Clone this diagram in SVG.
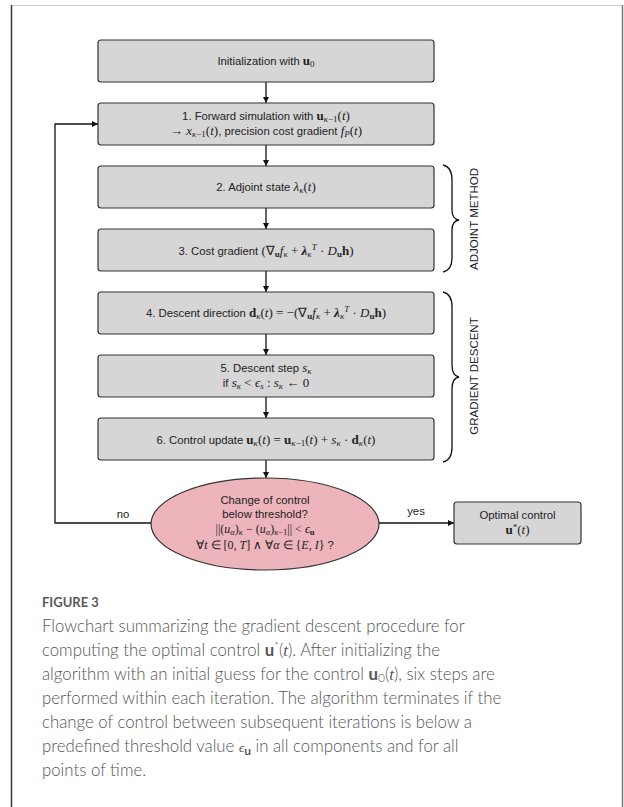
<svg xmlns="http://www.w3.org/2000/svg" width="624" height="807" viewBox="0 0 624 807">
<style>
.bg{fill:#ffffff}
.box{fill:#d6d6d6;stroke:#333;stroke-width:1.2}
.ell{fill:#eeb4bb;stroke:#333;stroke-width:1.2}
.t{font-family:"Liberation Sans",Arial,sans-serif;font-size:11.3px;fill:#222}
.m{font-family:"Liberation Serif","Times New Roman",serif;font-style:italic;font-size:13px}
.r{font-family:"Liberation Serif","Times New Roman",serif;font-style:normal;font-size:13px}
.b{font-family:"Liberation Serif","Times New Roman",serif;font-weight:bold;font-style:normal;font-size:13px}
.bi{font-family:"Liberation Serif","Times New Roman",serif;font-weight:bold;font-style:italic;font-size:13px}
.s{font-size:9px}
.e .m,.e .r,.e .b{font-size:12px}
.e .s{font-size:8.5px}
.con{fill:none;stroke:#111;stroke-width:1.3}
.brace{fill:none;stroke:#111;stroke-width:1.3}
.lab{font-family:"Liberation Sans",Arial,sans-serif;font-size:11.5px;fill:#222}
.cap{font-family:Lato,"Open Sans",sans-serif;font-size:16.8px;font-weight:300;fill:#555}
.fig{font-family:Lato,"Open Sans",sans-serif;font-size:13px;font-weight:bold;fill:#5a5a5a}
</style>
<defs>
<marker id="ah" markerWidth="8" markerHeight="8" refX="6" refY="3" orient="auto" markerUnits="userSpaceOnUse">
<path d="M0,0 L6,3 L0,6 Z" fill="#111"/>
</marker>
</defs>
<rect class="bg" x="0" y="0" width="624" height="807"/>
<g id="frame">
<line x1="11" y1="5.5" x2="623" y2="5.5" stroke="#cccccc" stroke-width="1"/>
<line x1="11.5" y1="5" x2="11.5" y2="807" stroke="#3a3a3a" stroke-width="1.5"/>
<line x1="622.5" y1="5" x2="622.5" y2="807" stroke="#777" stroke-width="1.5"/>
</g>

<g id="connectors">
<line class="con" x1="266" y1="82" x2="266" y2="103" marker-end="url(#ah)"/>
<line class="con" x1="266" y1="145" x2="266" y2="166" marker-end="url(#ah)"/>
<line class="con" x1="266" y1="208" x2="266" y2="229" marker-end="url(#ah)"/>
<line class="con" x1="266" y1="271" x2="266" y2="292" marker-end="url(#ah)"/>
<line class="con" x1="266" y1="334" x2="266" y2="355" marker-end="url(#ah)"/>
<line class="con" x1="266" y1="397" x2="266" y2="418" marker-end="url(#ah)"/>
<line class="con" x1="266" y1="460" x2="266" y2="478" marker-end="url(#ah)"/>
<polyline class="con" points="152,523 55,523 55,124 98,124" marker-end="url(#ah)"/>
<line class="con" x1="379" y1="523" x2="454" y2="523" marker-end="url(#ah)"/>
<text class="t" x="123" y="518" text-anchor="middle">no</text>
<text class="t" x="416" y="515" text-anchor="middle">yes</text>
</g>

<g id="n0">
<rect class="box" x="98" y="40" width="336" height="42" rx="3"/>
<text class="t" x="266" y="65" text-anchor="middle">Initialization with <tspan class="b">u</tspan><tspan class="r s" dy="2">0</tspan></text>
</g>

<g id="n1">
<rect class="box" x="98" y="103" width="336" height="42" rx="3"/>
<text class="t" x="266" y="120" text-anchor="middle">1. Forward simulation with <tspan class="b">u</tspan><tspan class="m s" dy="2">κ</tspan><tspan class="r s">−1</tspan><tspan class="r" dy="-2">(</tspan><tspan class="m">t</tspan><tspan class="r">)</tspan></text>
<text class="t" x="266" y="135" text-anchor="middle"><tspan class="r">→ </tspan><tspan class="m">x</tspan><tspan class="m s" dy="2">κ</tspan><tspan class="r s">−1</tspan><tspan class="r" dy="-2">(</tspan><tspan class="m">t</tspan><tspan class="r">)</tspan>, precision cost gradient <tspan class="m">f</tspan><tspan class="m s" dy="2">P</tspan><tspan class="r" dy="-2">(</tspan><tspan class="m">t</tspan><tspan class="r">)</tspan></text>
</g>

<g id="n2">
<rect class="box" x="98" y="166" width="336" height="42" rx="3"/>
<text class="t" x="266" y="191" text-anchor="middle">2. Adjoint state <tspan class="m">λ</tspan><tspan class="m s" dy="2">κ</tspan><tspan class="r" dy="-2">(</tspan><tspan class="m">t</tspan><tspan class="r">)</tspan></text>
</g>

<g id="n3">
<rect class="box" x="98" y="229" width="336" height="42" rx="3"/>
<text class="t" x="266" y="255" text-anchor="middle">3. Cost gradient <tspan class="r">(∇</tspan><tspan class="b s" dy="2">u</tspan><tspan class="m" dy="-2">f</tspan><tspan class="m s" dy="2">κ</tspan><tspan class="r" dy="-2"> + </tspan><tspan class="bi">λ</tspan><tspan class="m s" dy="2">κ</tspan><tspan class="m s" dy="-7">T</tspan><tspan class="r" dy="5"> · </tspan><tspan class="m">D</tspan><tspan class="b s" dy="2">u</tspan><tspan class="b" dy="-2">h</tspan><tspan class="r">)</tspan></text>
</g>

<g id="n4">
<rect class="box" x="98" y="292" width="336" height="42" rx="3"/>
<text class="t" x="266" y="317" text-anchor="middle">4. Descent direction <tspan class="b">d</tspan><tspan class="m s" dy="2">κ</tspan><tspan class="r" dy="-2">(</tspan><tspan class="m">t</tspan><tspan class="r">) = −(∇</tspan><tspan class="b s" dy="2">u</tspan><tspan class="m" dy="-2">f</tspan><tspan class="m s" dy="2">κ</tspan><tspan class="r" dy="-2"> + </tspan><tspan class="bi">λ</tspan><tspan class="m s" dy="2">κ</tspan><tspan class="m s" dy="-7">T</tspan><tspan class="r" dy="5"> · </tspan><tspan class="m">D</tspan><tspan class="b s" dy="2">u</tspan><tspan class="b" dy="-2">h</tspan><tspan class="r">)</tspan></text>
</g>

<g id="n5">
<rect class="box" x="98" y="355" width="336" height="42" rx="3"/>
<text class="t" x="266" y="372" text-anchor="middle">5. Descent step <tspan class="m">s</tspan><tspan class="m s" dy="2">κ</tspan></text>
<text class="t" x="266" y="387" text-anchor="middle">if <tspan class="m">s</tspan><tspan class="m s" dy="2">κ</tspan><tspan class="r" dy="-2"> &lt; </tspan><tspan class="m">ϵ</tspan><tspan class="m s" dy="2">s</tspan><tspan class="r" dy="-2"> : </tspan><tspan class="m">s</tspan><tspan class="m s" dy="2">κ</tspan><tspan class="r" dy="-2"> ← 0</tspan></text>
</g>

<g id="n6">
<rect class="box" x="98" y="418" width="336" height="42" rx="3"/>
<text class="t" x="266" y="444" text-anchor="middle">6. Control update <tspan class="b">u</tspan><tspan class="m s" dy="2">κ</tspan><tspan class="r" dy="-2">(</tspan><tspan class="m">t</tspan><tspan class="r">) = </tspan><tspan class="b">u</tspan><tspan class="m s" dy="2">κ</tspan><tspan class="r s">−1</tspan><tspan class="r" dy="-2">(</tspan><tspan class="m">t</tspan><tspan class="r">) + </tspan><tspan class="m">s</tspan><tspan class="m s" dy="2">κ</tspan><tspan class="r" dy="-2"> · </tspan><tspan class="b">d</tspan><tspan class="m s" dy="2">κ</tspan><tspan class="r" dy="-2">(</tspan><tspan class="m">t</tspan><tspan class="r">)</tspan></text>
</g>

<g id="decision" class="e">
<ellipse class="ell" cx="265" cy="524" rx="114" ry="46"/>
<text class="t" x="265" y="504" text-anchor="middle">Change of control</text>
<text class="t" x="265" y="518" text-anchor="middle">below threshold?</text>
<text class="t" x="265" y="533" text-anchor="middle"><tspan class="r">||(</tspan><tspan class="m">u</tspan><tspan class="m s" dy="2">α</tspan><tspan class="r" dy="-2">)</tspan><tspan class="m s" dy="2">κ</tspan><tspan class="r" dy="-2"> − (</tspan><tspan class="m">u</tspan><tspan class="m s" dy="2">α</tspan><tspan class="r" dy="-2">)</tspan><tspan class="m s" dy="2">κ</tspan><tspan class="r s">−1</tspan><tspan class="r" dy="-2">|| &lt; </tspan><tspan class="m">ϵ</tspan><tspan class="b s" dy="2">u</tspan></text>
<text class="t" x="265" y="549" text-anchor="middle"><tspan class="r">∀</tspan><tspan class="m">t</tspan><tspan class="r"> ∈ [0, </tspan><tspan class="m">T</tspan><tspan class="r">] ∧ ∀</tspan><tspan class="m">α</tspan><tspan class="r"> ∈ {</tspan><tspan class="m">E</tspan><tspan class="r">, </tspan><tspan class="m">I</tspan><tspan class="r">}</tspan> ?</text>
</g>

<g id="optimal">
<rect class="box" x="454" y="502" width="127" height="42" rx="3"/>
<text class="t" x="517.5" y="519" text-anchor="middle">Optimal control</text>
<text class="t" x="517.5" y="534" text-anchor="middle"><tspan class="b">u</tspan><tspan class="r s" dy="-4">*</tspan><tspan class="r" dy="4">(</tspan><tspan class="m">t</tspan><tspan class="r">)</tspan></text>
</g>

<g id="braces">
<path class="brace" d="M443,165 Q452,167 452,180 L452,210 Q452,219 459,220 Q452,221 452,230 L452,258 Q452,270 443,272"/>
<path class="brace" d="M443,292 Q452,294 452,307 L452,365 Q452,376 459,377 Q452,378 452,389 L452,447 Q452,460 443,462"/>
<text class="lab" transform="translate(478,219) rotate(-90)" text-anchor="middle">ADJOINT METHOD</text>
<text class="lab" transform="translate(478,376) rotate(-90)" text-anchor="middle">GRADIENT DESCENT</text>
</g>

<g id="caption">
<text class="fig" x="42" y="607">FIGURE 3</text>
<text class="cap" x="42" y="632">Flowchart summarizing the gradient descent procedure for</text>
<text class="cap" x="42" y="656">computing the optimal control <tspan font-weight="bold">u</tspan><tspan font-size="11" dy="-6">*</tspan><tspan dy="6">(</tspan><tspan font-style="italic" font-family="Liberation Serif,serif">t</tspan>). After initializing the</text>
<text class="cap" x="42" y="680">algorithm with an initial guess for the control <tspan font-weight="bold">u</tspan><tspan font-size="12" dy="2">0</tspan><tspan dy="-2">(</tspan><tspan font-style="italic" font-family="Liberation Serif,serif">t</tspan>), six steps are</text>
<text class="cap" x="42" y="704">performed within each iteration. The algorithm terminates if the</text>
<text class="cap" x="42" y="728">change of control between subsequent iterations is below a</text>
<text class="cap" x="42" y="752">predefined threshold value <tspan font-family="Liberation Serif,serif" font-style="italic" font-size="13">ϵ</tspan><tspan font-weight="bold" font-size="12" dy="3">u</tspan><tspan dy="-3"> in all components and for all</tspan></text>
<text class="cap" x="42" y="776">points of time.</text>
</g>
</svg>
